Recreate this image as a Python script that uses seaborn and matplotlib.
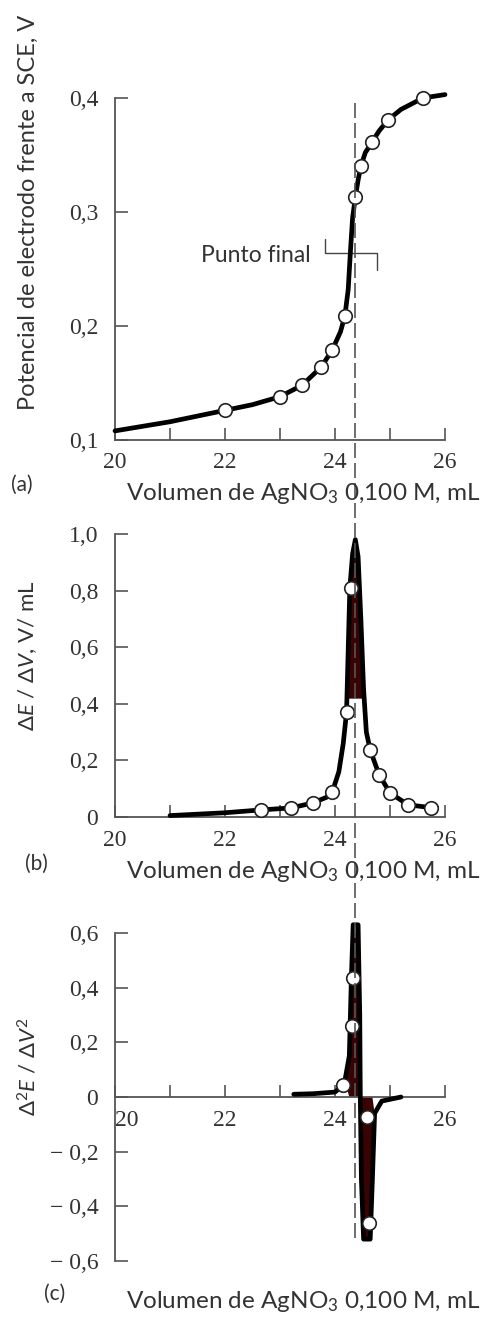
import numpy as np
import pandas as pd
import matplotlib
matplotlib.use("Agg")
import matplotlib.pyplot as plt
import matplotlib.transforms as mtransforms
from matplotlib.lines import Line2D
import seaborn as sns

# ---------------- data ----------------
# (a) potential vs volume
vol_a_pts = [22.0, 23.0, 23.4, 23.75, 23.95, 24.18, 24.37, 24.47, 24.67, 24.97, 25.6]
E_a_pts = [0.126, 0.138, 0.148, 0.164, 0.179, 0.209, 0.313, 0.340, 0.361, 0.381, 0.400]
vol_a_curve = [20.0, 20.5, 21.0, 21.5, 22.0, 22.5, 23.0, 23.4, 23.75, 23.95, 24.1, 24.18,
               24.24, 24.28, 24.32, 24.37, 24.42, 24.47, 24.55, 24.67, 24.8, 24.97, 25.2,
               25.6, 26.0]
E_a_curve = [0.108, 0.112, 0.116, 0.121, 0.126, 0.131, 0.138, 0.148, 0.164, 0.179, 0.195,
             0.209, 0.232, 0.265, 0.295, 0.313, 0.328, 0.340, 0.352, 0.361, 0.371, 0.381,
             0.390, 0.400, 0.403]

# (b) first derivative
vol_b_pts = [22.65, 23.2, 23.6, 23.95, 24.21, 24.29, 24.63, 24.8, 25.0, 25.33, 25.75]
dE_b_pts = [0.025, 0.032, 0.05, 0.09, 0.37, 0.81, 0.237, 0.15, 0.085, 0.043, 0.033]
vol_b_curve = [21.0, 21.5, 22.0, 22.65, 23.2, 23.6, 23.85, 23.97, 24.07, 24.15, 24.21,
               24.27, 24.32, 24.37, 24.42, 24.47, 24.52, 24.57, 24.64, 24.8, 25.0, 25.33,
               25.75, 25.85]
dE_b_curve = [0.005, 0.01, 0.015, 0.025, 0.032, 0.05, 0.07, 0.10, 0.16, 0.26, 0.37, 0.81,
              0.93, 0.98, 0.92, 0.70, 0.45, 0.30, 0.237, 0.15, 0.085, 0.043, 0.033, 0.033]

# (c) second derivative
vol_c_pts = [24.15, 24.30, 24.33, 24.58, 24.61]
d2_c_pts = [0.044, 0.26, 0.435, -0.072, -0.46]
vol_c_curve = [23.25, 23.6, 24.0, 24.1, 24.18, 24.26, 24.30, 24.33, 24.42, 24.45, 24.46,
               24.48, 24.52, 24.64, 24.68, 24.72, 24.85, 25.2]
d2_c_curve = [0.01, 0.012, 0.018, 0.035, 0.06, 0.15, 0.45, 0.63, 0.63, 0.30, 0.0, -0.30,
              -0.52, -0.52, -0.30, -0.06, -0.015, 0.0]

endpoint = 24.37

x_ticks = [20, 21, 22, 23, 24, 25, 26]
x_ticklabels = ["20", "", "22", "", "24", "", "26"]
a_yticks = [0.1, 0.2, 0.3, 0.4]
a_yticklabels = ["0,1", "0,2", "0,3", "0,4"]
b_yticks = [0.0, 0.2, 0.4, 0.6, 0.8, 1.0]
b_yticklabels = ["0", "0,2", "0,4", "0,6", "0,8", "1,0"]
c_yticks = [-0.6, -0.4, -0.2, 0.0, 0.2, 0.4, 0.6]
c_yticklabels = ["\u2212 0,6", "\u2212 0,4", "\u2212 0,2", "0", "0,2", "0,4", "0,6"]

xlabel_text = r"Volumen de AgNO$_3$ 0,100 M, mL"

# ---------------- style ----------------
sns.set_theme(style="ticks")
plt.rcParams["font.family"] = ["Lato", "DejaVu Sans"]
plt.rcParams["mathtext.fontset"] = "custom"
plt.rcParams["mathtext.rm"] = "Lato"
plt.rcParams["mathtext.it"] = "Lato:italic"
plt.rcParams["mathtext.bf"] = "Lato:bold"

SPINE = "#555555"
TXT = "#333333"
FILL = "#3a0303"
tick_font = dict(family=["Liberation Serif", "DejaVu Serif"], size=17, color=TXT)

fig = plt.figure(figsize=(4.85, 13.2), dpi=100)
W, H = 485.0, 1320.0
axA = fig.add_axes([115 / W, 1 - 440 / H, 330 / W, 342 / H])
axB = fig.add_axes([115 / W, 1 - 817 / H, 330 / W, 283 / H])
axC = fig.add_axes([115 / W, 1 - 1261 / H, 330 / W, 328 / H])


def style_axis(ax, yticks, yticklabels, ylim, zero_spine=False):
    ax.set_xlim(20, 26)
    ax.set_ylim(*ylim)
    if zero_spine:
        ax.spines["bottom"].set_position(("data", 0))
    for s in ["top", "right"]:
        ax.spines[s].set_visible(False)
    for s in ["left", "bottom"]:
        ax.spines[s].set_color(SPINE)
        ax.spines[s].set_linewidth(1.3)
    ax.set_xticks(x_ticks)
    ax.set_xticklabels(x_ticklabels, fontdict=tick_font)
    ax.set_yticks(yticks)
    ax.set_yticklabels(yticklabels, fontdict=tick_font)
    ax.tick_params(axis="both", direction="in", length=9, width=1.2, color=SPINE)
    ax.tick_params(axis="x", pad=9)
    ax.tick_params(axis="y", pad=12)
    ax.set_xlabel("")
    ax.set_ylabel("")
    ax.set_facecolor("white")


def draw_series(ax, cx, cy, px, py):
    sns.lineplot(x=cx, y=cy, ax=ax, color="black", lw=3.4, sort=False, estimator=None,
                 solid_joinstyle="round", solid_capstyle="round", clip_on=False, zorder=3)
    sns.scatterplot(x=px, y=py, ax=ax, marker="o", s=95, facecolor="white",
                    edgecolor="#222222", linewidth=1.2, zorder=4, clip_on=False)


# (a)
draw_series(axA, vol_a_curve, E_a_curve, vol_a_pts, E_a_pts)
style_axis(axA, a_yticks, a_yticklabels, (0.1, 0.4))
axA.plot([23.82, 23.82, 24.76, 24.76], [0.276, 0.264, 0.264, 0.249], color="#444444", lw=1.0)
axA.text(23.55, 0.262, "Punto final", ha="right", va="center", fontsize=16.5, color=TXT)

# (b)
xb = np.array(vol_b_curve)
yb = np.array(dE_b_curve)
axB.fill_between(xb, yb, 0.42, where=yb > 0.42, interpolate=True, color=FILL, lw=0, zorder=2)
draw_series(axB, vol_b_curve, dE_b_curve, vol_b_pts, dE_b_pts)
style_axis(axB, b_yticks, b_yticklabels, (0.0, 1.0))

# (c)
xc = np.array(vol_c_curve)
yc = np.array(d2_c_curve)
axC.fill_between(xc, yc, 0, where=np.abs(yc) > 0.1, interpolate=True, color=FILL, lw=0, zorder=2)
draw_series(axC, vol_c_curve, d2_c_curve, vol_c_pts, d2_c_pts)
style_axis(axC, c_yticks, c_yticklabels, (-0.6, 0.6), zero_spine=True)
first_lbl = axC.get_xticklabels()[0]
first_lbl.set_horizontalalignment("left")
first_lbl.set_x(20.05)

# dashed end-point line running through all three panels
blend = mtransforms.blended_transform_factory(axA.transData, fig.transFigure)
fig.add_artist(Line2D([endpoint, endpoint], [1 - 103 / H, 1 - 1240 / H], transform=blend,
                      color="#555555", lw=1.2, linestyle=(0, (9, 3)), zorder=1))

# labels
fig.text(28 / W, 1 - 212 / H, "Potencial de electrodo frente a SCE, V", rotation=90,
         ha="center", va="center", fontsize=17, color=TXT)
fig.text(28 / W, 1 - 656 / H, r"$\Delta E$ / $\Delta V$, V/ mL", rotation=90,
         ha="center", va="center", fontsize=16, color=TXT)
fig.text(28 / W, 1 - 1067 / H, r"$\Delta^2 E$ / $\Delta V^2$", rotation=90,
         ha="center", va="center", fontsize=16, color=TXT)

for ylab, yl, xp in [(493, "(a)", 22), (872, "(b)", 36), (1302, "(c)", 55)]:
    fig.text(xp / W, 1 - (ylab - 8) / H, yl, ha="center", va="center", fontsize=15, color=TXT)
for ylab in [493, 872, 1302]:
    fig.text(303 / W, 1 - ylab / H, xlabel_text, ha="center", va="center", fontsize=17.5,
             color=TXT)

fig.savefig("out.png", dpi=100, facecolor="white")
